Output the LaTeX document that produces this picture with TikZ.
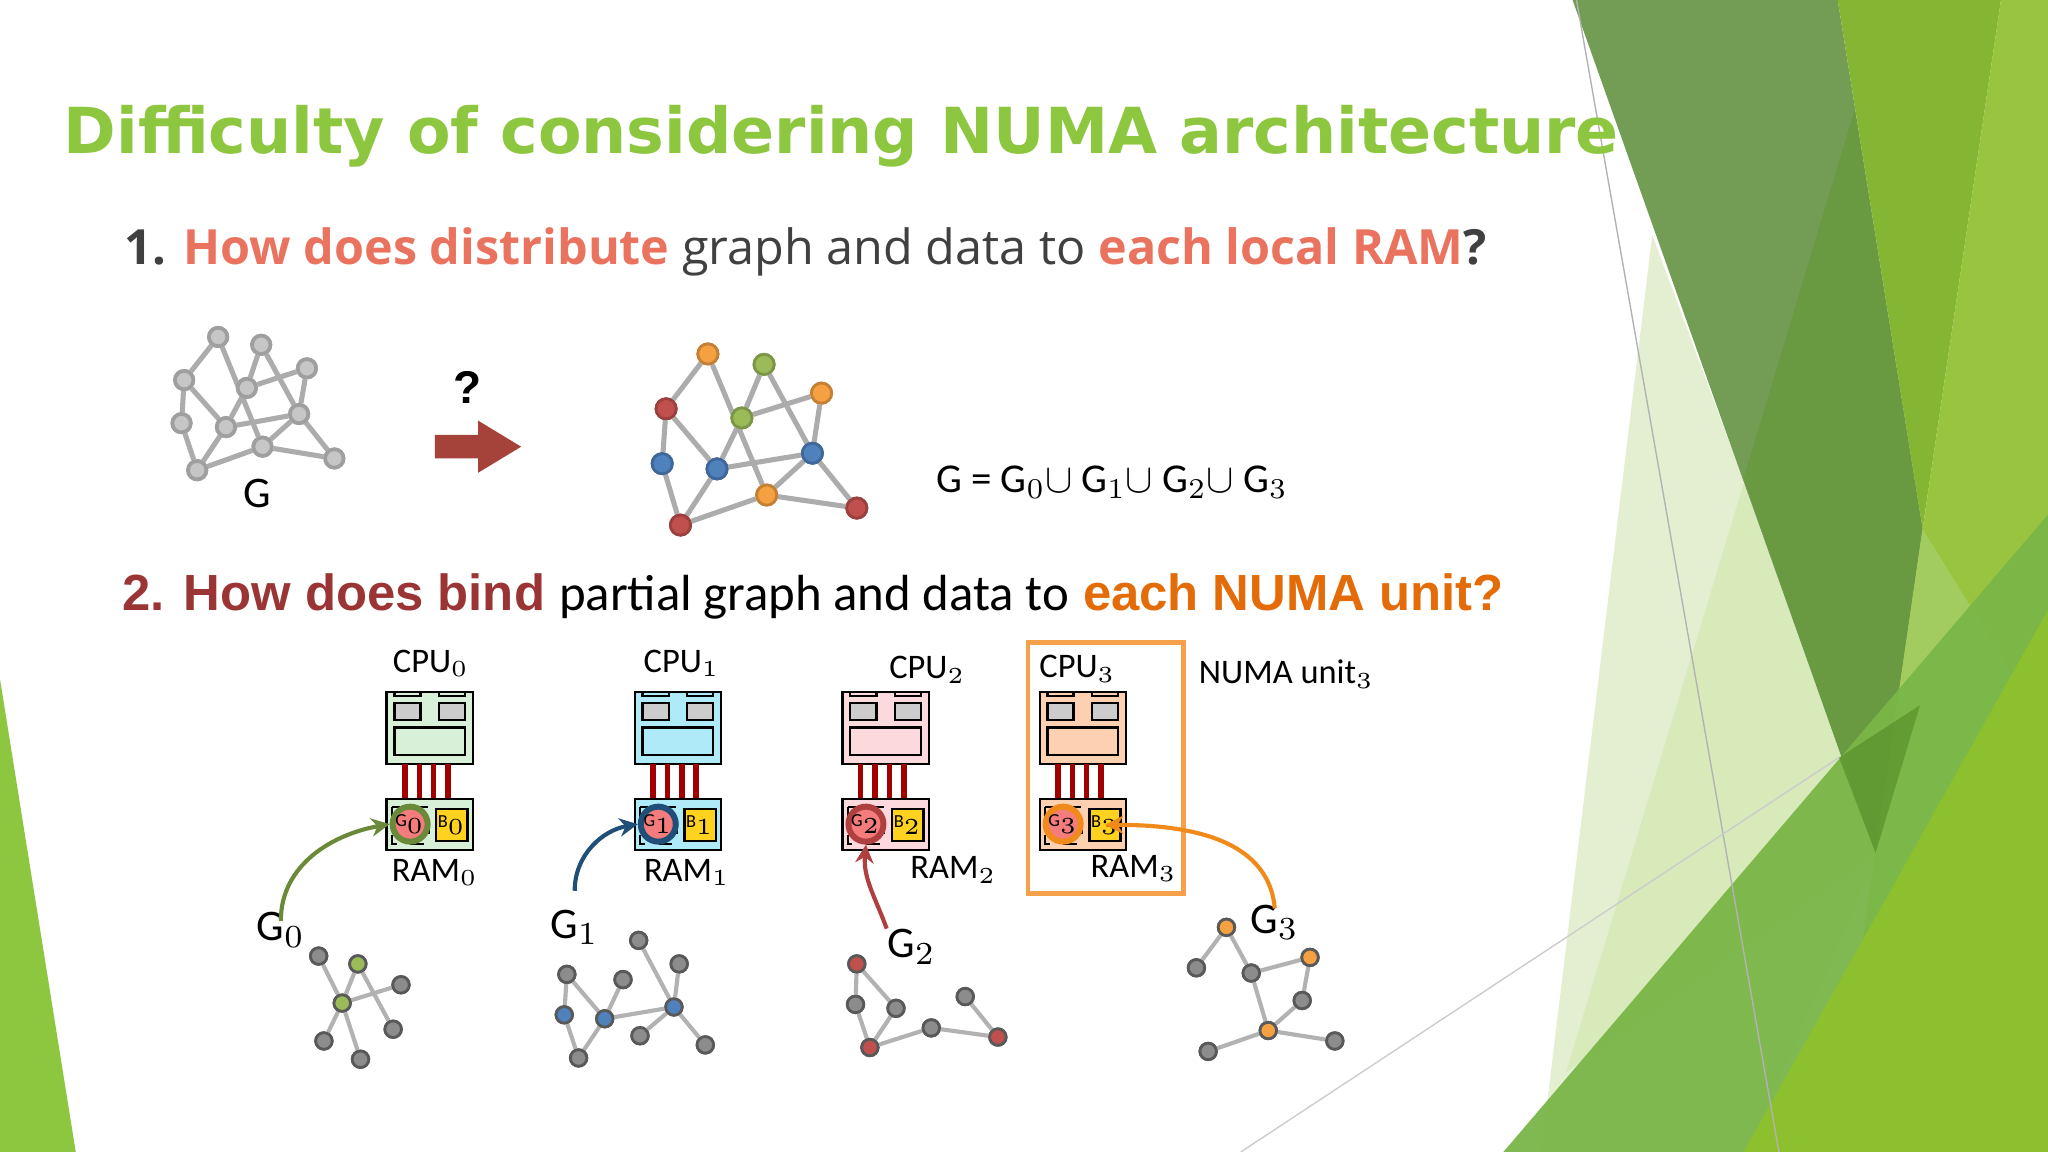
\documentclass[tikz,border=0pt]{standalone}
\usepackage{fontspec}
\setmainfont{Carlito}
\newfontfamily\osans{Open Sans}
\newfontfamily\lsans{Liberation Sans}
\newfontfamily\dsans{DejaVu Sans}
\usetikzlibrary{arrows.meta}
\definecolor{ttl}{HTML}{8DC63F}
\definecolor{dk}{HTML}{404040}
\definecolor{salm}{HTML}{E9735E}
\definecolor{brn}{HTML}{9B3535}
\definecolor{orn}{HTML}{E36C09}
\definecolor{gO}{HTML}{F5A142}
\definecolor{gG}{HTML}{9BBB59}
\definecolor{gR}{HTML}{C0504D}
\definecolor{gB}{HTML}{4F81BD}
\definecolor{bus}{HTML}{A00000}
\definecolor{bgA}{HTML}{E4EFD2}
\definecolor{bgB}{HTML}{D6E8B4}
\definecolor{bgC}{HTML}{739C55}
\definecolor{bgD}{HTML}{699A42}
\definecolor{bgE}{HTML}{84B634}
\definecolor{bgF}{HTML}{98C440}
\definecolor{bgG}{HTML}{A6CE68}
\definecolor{bgH}{HTML}{7AB648}
\definecolor{bgI}{HTML}{528A24}
\definecolor{bgJ}{HTML}{8DC02E}
\definecolor{arr}{HTML}{A5433A}
\definecolor{uA}{HTML}{D8F0D8}
\definecolor{uB}{HTML}{AEEAF8}
\definecolor{uC}{HTML}{FBD9DC}
\definecolor{uD}{HTML}{FCD0B0}
\definecolor{rA}{HTML}{6A8A3A}
\definecolor{rB}{HTML}{1F4E79}
\definecolor{rC}{HTML}{B04040}
\definecolor{rD}{HTML}{F08A1A}
\definecolor{frm}{HTML}{F5A04A}
\definecolor{gcell}{HTML}{F47C7C}
\definecolor{ycell}{HTML}{FFD21F}
\newcommand{\fitw}[2]{\resizebox{#1}{!}{#2}}
\tikzset{
 gv/.style={circle,inner sep=0pt,minimum size=4pt,draw=gray!75,line width=0.8pt,fill=gray!45},
 cv/.style={circle,inner sep=0pt,minimum size=4.4pt,draw=#1!80!black,line width=0.6pt,fill=#1},
 sv/.style={circle,inner sep=0pt,minimum size=3.6pt,draw=black!65,line width=0.6pt,fill=#1},
 sv/.default={gray!90},
 ge/.style={draw=gray!65,line width=1.1pt},
 se/.style={draw=gray!60,line width=0.9pt},
 lbl/.style={inner sep=0pt,font=\fontsize{7.5}{8}\selectfont},
 glbl/.style={inner sep=0pt,font=\fontsize{9.5}{10}\selectfont},
 conn/.style={line width=0.9pt,-{Stealth[length=4pt,width=4pt]}},
}
\newcommand{\numaunit}[4]{%
 \begin{scope}[shift={(#1,530)}]
  \draw[fill=#2,line width=0.5pt] (0,0) rectangle (66,55);
  \draw[fill=#2,line width=0.5pt] (6,0) rectangle (26,3);
  \draw[fill=#2,line width=0.5pt] (40,0) rectangle (60,3);
  \draw[fill=gray!40,line width=0.5pt] (6,8) rectangle (26,21);
  \draw[fill=gray!40,line width=0.5pt] (40,8) rectangle (60,21);
  \draw[fill=#2,line width=0.5pt] (6,27) rectangle (60,48);
  \foreach \bx in {14,25,36,47}{\draw[bus,line width=1.2pt] (\bx,55) -- (\bx,82);}
  \draw[fill=#2,line width=0.5pt] (0,82) rectangle (66,121);
  \draw[line width=0.5pt,dashed] (4,88) rectangle (32,116);
  \node[draw=black,line width=0.5pt,fill=ycell,minimum width=6.8pt,minimum height=7pt,inner sep=0pt,font=\fontsize{4}{4}\selectfont] (b#3) at (50,101.5) {B$_{#3}$};
  \node[circle,draw=#4,line width=1.3pt,fill=gcell,minimum size=7pt,inner sep=0pt,font=\fontsize{4}{4}\selectfont] (c#3) at (18,101) {G$_{#3}$};
 \end{scope}}
\begin{document}
\begin{tikzpicture}[x=0.01cm,y=-0.01cm]
\useasboundingbox (0,0) rectangle (1568,882);
\fill[white] (0,0) rectangle (1568,882);
% background
\fill[ttl] (0,520) -- (58,882) -- (0,882) -- cycle;
\fill[bgA] (1265,180) -- (1440,650) -- (1338,882) -- (1180,882) -- cycle;
\fill[bgB,opacity=0.8] (1335,370) -- (1436,653) -- (1199,821) -- cycle;
\fill[bgC] (1204,0) -- (1407,0) -- (1472,405) -- (1436,653) -- cycle;
\fill[bgD] (1420,84) -- (1472,405) -- (1436,653) -- (1335,366) -- cycle;
\fill[bgE] (1407,0) -- (1532,0) -- (1472,405) -- cycle;
\fill[bgF] (1532,0) -- (1568,0) -- (1568,882) -- (1400,882) -- (1427,714) -- (1472,405) -- cycle;
\fill[bgG,opacity=0.8] (1472,405) -- (1568,560) -- (1427,714) -- cycle;
\fill[bgH,opacity=0.95] (1151,882) -- (1568,394) -- (1568,882) -- cycle;
\fill[bgI,opacity=0.6] (1408,580) -- (1470,540) -- (1436,653) -- cycle;
\fill[bgJ] (1335,882) -- (1568,467) -- (1568,882) -- cycle;
\draw[gray!60,line width=0.3pt] (1207,0) -- (1362,882);
\draw[gray!40,line width=0.3pt] (950,882) -- (1408,580);
% texts
\node[anchor=west,inner sep=0pt,text=ttl] (title) at (48,104) {\fitw{11.9cm}{\dsans\bfseries Difficulty of considering NUMA architecture}};
\node[anchor=west,inner sep=0pt] (q1) at (95,193) {\fitw{10.42cm}{\osans\bfseries\color{dk}1. \color{salm}How does distribute \mdseries\color{dk}graph and data to \bfseries\color{salm}each local RAM\color{dk}?}};
\node[anchor=west,inner sep=0pt] (q2) at (93,457) {\fitw{10.57cm}{\lsans\bfseries\color{brn}2. How does bind {\rmfamily\mdseries\color{black} partial graph and data to} \color{orn}each NUMA unit?}};
% graph G
\foreach \n/\x/\y in {a/167/258,b/200/264,c/141/291,d/235/282,e/189/297,f/139/324,g/173/327,h/229/317,i/201/342,j/151/360,k/256/351}{\node[gv] (G\n) at (\x,\y) {};}
\foreach \u/\v in {a/c,a/i,b/e,e/g,e/d,b/h,d/h,c/g,c/f,f/j,j/i,g/h,h/i,i/k,h/k,g/j}{\draw[ge] (G\u) -- (G\v);}
\foreach \n in {a,b,c,d,e,f,g,h,i,j,k}{\node[gv] at (G\n) {};}
\node[glbl] (Glab) at (197,378) {G};
% arrow
\fill[arr] (333,333) -- (366,333) -- (366,322) -- (399,342) -- (366,362) -- (366,351) -- (333,351) -- cycle;
\node[inner sep=0pt,font=\lsans\bfseries\fontsize{10}{10}\selectfont] (qm) at (358,297) {?};
% coloured graph
\foreach \n/\x/\y/\c in {a/542/271/gO,b/585/279/gG,d/629/301/gO,c/510/313/gR,e/568/320/gG,f/507/355/gB,g/549/359/gB,h/622/347/gB,i/587/379/gO,j/521/402/gR,k/656/389/gR}{\node[cv=\c] (H\n) at (\x,\y) {};}
\foreach \u/\v in {a/c,a/i,b/e,e/g,e/d,b/h,d/h,c/g,c/f,f/j,j/i,g/h,h/i,i/k,h/k,g/j}{\draw[ge] (H\u) -- (H\v);}
\foreach \n/\c in {a/gO,b/gG,d/gO,c/gR,e/gG,f/gB,g/gB,h/gB,i/gO,j/gR,k/gR}{\node[cv=\c] at (H\n) {};}
\node[inner sep=0pt,anchor=west] (eq) at (716,369) {\fitw{2.69cm}{G = G$_0 \cup$ G$_1 \cup$ G$_2 \cup$ G$_3$}};
% NUMA units
\numaunit{296}{uA}{0}{rA}
\numaunit{486}{uB}{1}{rB}
\numaunit{645}{uC}{2}{rC}
\numaunit{796}{uD}{3}{rD}
\draw[frm,line width=1pt] (787,492) rectangle (906,684);
\node[lbl] (cpu0) at (330,508) {CPU$_0$};
\node[lbl] (cpu1) at (522,508) {CPU$_1$};
\node[lbl] (cpu2) at (710,513) {CPU$_2$};
\node[lbl] (cpu3) at (825,512) {CPU$_3$};
\node[lbl] (ram0) at (333,668) {RAM$_0$};
\node[lbl] (ram1) at (526,668) {RAM$_1$};
\node[lbl] (ram2) at (730,666) {RAM$_2$};
\node[lbl] (ram3) at (868,665) {RAM$_3$};
\node[lbl] (numa) at (985,516) {NUMA unit$_3$};
% small graphs
\node[glbl] (g0lab) at (215,712) {G$_0$};
\node[glbl] (g1lab) at (440,710) {G$_1$};
\node[glbl] (g2lab) at (698,725) {G$_2$};
\node[glbl] (g3lab) at (976,706) {G$_3$};
% G0
\foreach \n/\x/\y/\c in {p/244/732/gray!90,q/274/738/gG,r/307/754/gray!90,s/262/768/gG,t/301/788/gray!90,u/248/797/gray!90,v/276/811/gray!90}{\node[sv=\c] (A\n) at (\x,\y) {};}
\foreach \u/\v in {s/p,s/v,s/q,s/u,q/t,s/r}{\draw[se] (A\u) -- (A\v);}
\foreach \n/\c in {p/gray!90,q/gG,r/gray!90,s/gG,t/gray!90,u/gray!90,v/gray!90}{\node[sv=\c] at (A\n) {};}
% G1
\foreach \n/\x/\y/\c in {p/489/720/gray!90,q/434/746/gray!90,r/477/750/gray!90,s/520/738/gray!90,t/432/777/gB,u/463/780/gB,v/516/771/gB,w/490/793/gray!90,x/443/810/gray!90,y/540/800/gray!90}{\node[sv=\c] (B\n) at (\x,\y) {};}
\foreach \u/\v in {p/v,v/y,s/v,v/w,u/v,u/r,q/u,q/t,t/x,x/u}{\draw[se] (B\u) -- (B\v);}
\foreach \n/\c in {p/gray!90,q/gray!90,r/gray!90,s/gray!90,t/gB,u/gB,v/gB,w/gray!90,x/gray!90,y/gray!90}{\node[sv=\c] at (B\n) {};}
% G2
\foreach \n/\x/\y/\c in {p/656/738/gR,q/655/769/gray!90,r/686/772/gray!90,s/666/802/gR,t/713/787/gray!90,u/739/763/gray!90,v/764/794/gR}{\node[sv=\c] (C\n) at (\x,\y) {};}
\foreach \u/\v in {p/q,p/r,q/s,r/s,s/t,t/v,v/u}{\draw[se] (C\u) -- (C\v);}
\foreach \n/\c in {p/gR,q/gray!90,r/gray!90,s/gR,t/gray!90,u/gray!90,v/gR}{\node[sv=\c] at (C\n) {};}
% G3
\foreach \n/\x/\y/\c in {p/939/710/gO,q/916/741/gray!90,r/958/745/gray!90,s/1003/733/gO,t/997/766/gray!90,u/971/789/gO,v/925/805/gray!90,w/1022/797/gray!90}{\node[sv=\c] (D\n) at (\x,\y) {};}
\foreach \u/\v in {p/q,p/r,r/s,r/u,s/t,t/u,u/v,u/w}{\draw[se] (D\u) -- (D\v);}
\foreach \n/\c in {p/gO,q/gray!90,r/gray!90,s/gO,t/gray!90,u/gO,v/gray!90,w/gray!90}{\node[sv=\c] at (D\n) {};}
% connectors
\draw[conn,rA] ([yshift=-2pt]g0lab.north) to[out=90,in=190] (c0.west);
\draw[conn,rB] (440,682) to[out=90,in=190] (c1.west);
\draw[conn,rC] (g2lab.north west) to[out=110,in=-95] (c2.south);
\draw[conn,rD] ([yshift=-1pt]g3lab.north) to[out=95,in=0] (b3.center);
\end{tikzpicture}
\end{document}
